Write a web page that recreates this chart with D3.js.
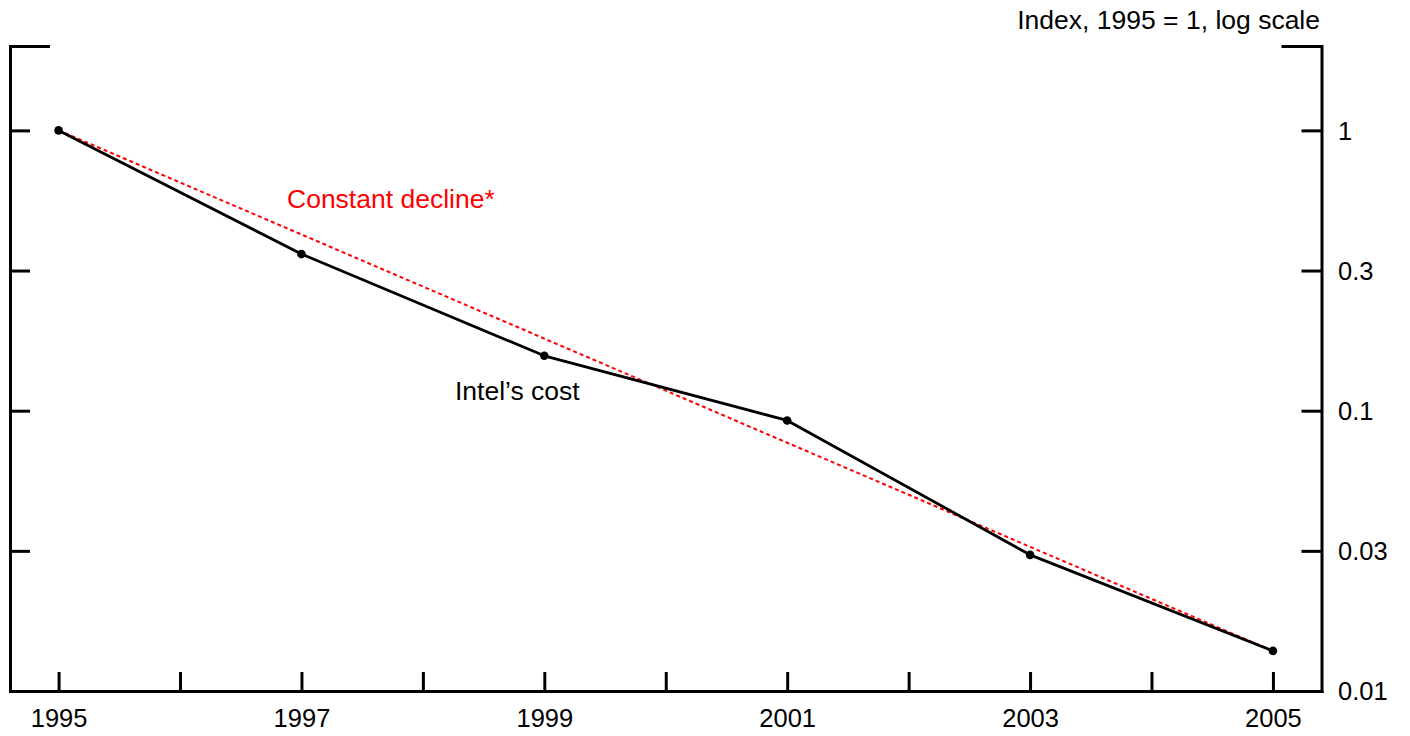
<!DOCTYPE html>
<html>
<head>
<meta charset="utf-8">
<script src="https://cdn.jsdelivr.net/npm/d3@7"></script>
<style>
  html, body { margin: 0; padding: 0; background: #fff; }
  svg { display: block; font-family: "Liberation Sans", Arial, sans-serif; }
</style>
</head>
<body>
<svg id="chart" width="1410" height="736"></svg>
<script>
// ---- data ----
const years = [1995, 1997, 1999, 2001, 2003, 2005];
const intelCost = [1, 0.362, 0.157, 0.0923, 0.0306, 0.0139];
const declineYears = [1995, 2005];
const declineValues = [1, 0.0139];
const xTickYears = [1995, 1996, 1997, 1998, 1999, 2000, 2001, 2002, 2003, 2004, 2005];
const xLabelYears = [1995, 1997, 1999, 2001, 2003, 2005];
const yTickValues = [1, 0.3162, 0.1, 0.03162, 0.01];
const yTickLabels = ["1", "0.3", "0.1", "0.03", "0.01"];
const yDomain = [0.01, 2];
const xDomain = [1994.6, 2005.4];

// ---- layout ----
const svg = d3.select("#chart");
const plotLeft = 10, plotRight = 1321.5, plotTop = 46, plotBottom = 691;
const x = d3.scaleLinear().domain(xDomain).range([plotLeft, plotRight]);
const y = d3.scaleLog().domain(yDomain).range([plotBottom, plotTop]);

const axisStroke = 3;
const tickFont = 25.5;
const labelFont = 26.5;
function styleAxis(g) {
  g.selectAll("path.domain").attr("stroke", "#000").attr("stroke-width", axisStroke).attr("stroke-linecap", "square");
  g.selectAll(".tick line").attr("stroke", "#000").attr("stroke-width", axisStroke);
  g.selectAll("text").attr("fill", "#000").attr("font-size", tickFont).attr("font-family", "Liberation Sans, Arial, sans-serif");
}

// bottom axis
const gx = svg.append("g").attr("transform", `translate(0,${plotBottom})`)
  .call(d3.axisBottom(x).tickValues(xTickYears).tickSize(-19).tickSizeOuter(0)
    .tickFormat(d => xLabelYears.includes(d) ? String(d) : ""));
styleAxis(gx);
gx.selectAll("text").attr("y", 36).attr("dy", 0);

// left axis
const gl = svg.append("g").attr("transform", `translate(${plotLeft},0)`)
  .call(d3.axisLeft(y).tickValues(yTickValues).tickSize(-20).tickSizeOuter(0).tickFormat(""));
styleAxis(gl);

// right axis
const gr = svg.append("g").attr("transform", `translate(${plotRight},0)`)
  .call(d3.axisRight(y).tickValues(yTickValues).tickSize(-20).tickSizeOuter(0)
    .tickFormat((d, i) => yTickLabels[i]));
styleAxis(gr);
gr.selectAll("text").attr("x", 16.5).attr("dy", "0.35em");

// top frame ticks at domain top
const gtl = svg.append("g").attr("transform", `translate(${plotLeft},0)`)
  .call(d3.axisLeft(y).tickValues([yDomain[1]]).tickSize(-40).tickSizeOuter(0).tickFormat(""));
styleAxis(gtl);
gtl.select("path.domain").remove();
const gtr = svg.append("g").attr("transform", `translate(${plotRight},0)`)
  .call(d3.axisRight(y).tickValues([yDomain[1]]).tickSize(-40).tickSizeOuter(0).tickFormat(""));
styleAxis(gtr);
gtr.select("path.domain").remove();

// constant decline (red dashed)
const declinePts = declineYears.map((d, i) => [d, declineValues[i]]);
svg.append("path")
  .datum(declinePts)
  .attr("d", d3.line().x(d => x(d[0])).y(d => y(d[1])))
  .attr("fill", "none").attr("stroke", "#ff0000").attr("stroke-width", 2)
  .attr("stroke-dasharray", "4,3");

// Intel's cost line
const intelPts = years.map((d, i) => [d, intelCost[i]]);
svg.append("path")
  .datum(intelPts)
  .attr("d", d3.line().x(d => x(d[0])).y(d => y(d[1])))
  .attr("fill", "none").attr("stroke", "#000").attr("stroke-width", 2.8)
  .attr("stroke-linejoin", "round");

svg.append("g").selectAll("circle").data(intelPts).join("circle")
  .attr("cx", d => x(d[0])).attr("cy", d => y(d[1])).attr("r", 4.3).attr("fill", "#000");

// labels
svg.append("text").attr("x", 1320).attr("y", 29).attr("text-anchor", "end")
  .attr("font-size", labelFont).attr("fill", "#000").text("Index, 1995 = 1, log scale");
svg.append("text").attr("x", 287).attr("y", 208)
  .attr("font-size", labelFont).attr("fill", "#ff0000").text("Constant decline*");
svg.append("text").attr("x", 455).attr("y", 400)
  .attr("font-size", labelFont).attr("fill", "#000").text("Intel\u2019s cost");
</script>
</body>
</html>
